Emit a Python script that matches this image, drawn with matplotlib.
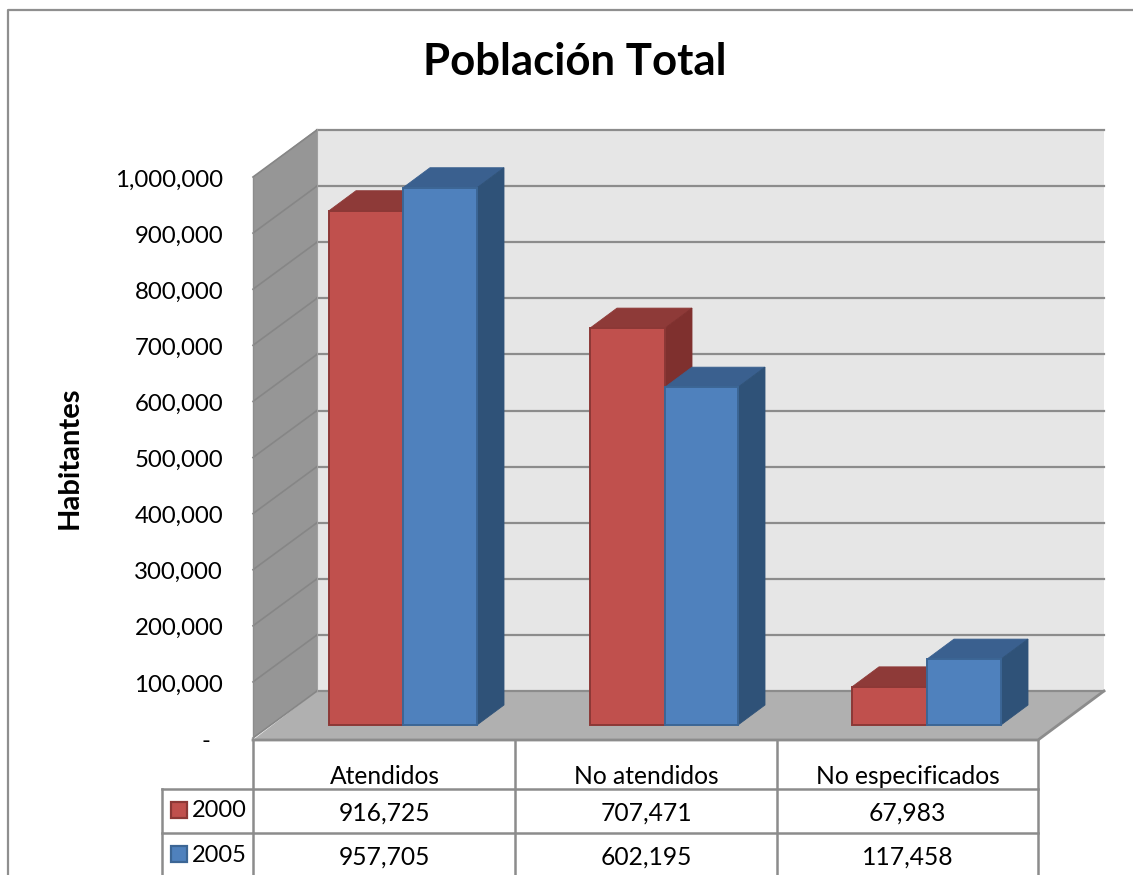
import matplotlib
matplotlib.use("Agg")
import matplotlib.pyplot as plt
from matplotlib.patches import Polygon
from matplotlib.ticker import FuncFormatter
from matplotlib.transforms import ScaledTranslation

title = "Población Total"
ylabel = "Habitantes"
categories = ["Atendidos", "No atendidos", "No especificados"]
series_names = ["2000", "2005"]
values_2000 = [916725, 707471, 67983]
values_2005 = [957705, 602195, 117458]
y_ticks = [0, 100000, 200000, 300000, 400000, 500000, 600000, 700000, 800000, 900000, 1000000]

plt.rcParams['font.family'] = ['Lato', 'DejaVu Sans']
W, H = 1133, 875
fig = plt.figure(figsize=(W / 100, H / 100), dpi=100, facecolor='white')
ax = fig.add_axes([0, 0, 1, 1], facecolor='none')

SCALE = 561.0 / 1e6          # pixels per inhabitant
FRONT_ZERO = 738.0
def V(p):                    # pixel row -> axis value
    return (FRONT_ZERO - p) / SCALE
def DV(d):                   # pixel length -> axis units
    return d / SCALE

ax.set_xlim(0, W)
ax.set_ylim(V(H), V(0))

GRID = '#8c8c8c'
# outer frame
ax.plot([8, 8, W], [V(H), V(10), V(10)], color='#8f8f8f', lw=1.6, zorder=1)

# walls and floor
ax.add_patch(Polygon([(317, V(129)), (1104, V(129)), (1104, V(691)), (317, V(691))], fc='#e6e6e6', ec='none', zorder=1))
ax.add_patch(Polygon([(253, V(177)), (317, V(129)), (317, V(691)), (253, V(738))], fc='#969696', ec='none', zorder=1))
ax.add_patch(Polygon([(253, V(740)), (317, V(691)), (1104, V(691)), (1038, V(740))], fc='#b0b0b0', ec='none', zorder=1))

# gridlines
for t in y_ticks:
    ybk = t + DV(738 - 691)
    ax.plot([317, 1104], [ybk, ybk], color=GRID, lw=1.6, zorder=2)
    ax.plot([253, 317], [t, ybk], color='#868686', lw=1.2, zorder=2)
ax.plot([253, 253], [V(740), V(177)], color='#8c8c8c', lw=1.0, zorder=2)
ax.plot([317, 317], [V(691), V(129)], color='#a0a0a0', lw=0.8, zorder=2)
ax.plot([253, 1038, 1104], [V(740), V(740), V(691)], color=GRID, lw=2, zorder=3)

# bars
BASE = V(725)
DX, DY = 27, DV(20)
def bar3d(x0, x1, v, face, top, side, edge, z):
    ax.add_patch(Polygon([(x0, BASE + v), (x0 + DX, BASE + v + DY), (x1 + DX, BASE + v + DY), (x1, BASE + v)],
                         fc=top, ec=top, lw=0.6, zorder=z))
    ax.add_patch(Polygon([(x1, BASE), (x1 + DX, BASE + DY), (x1 + DX, BASE + v + DY), (x1, BASE + v)],
                         fc=side, ec=side, lw=0.6, zorder=z))
    ax.bar((x0 + x1) / 2, v, width=x1 - x0, bottom=BASE, color=face, edgecolor=edge, linewidth=1.4, zorder=z + 0.1)

red_x = [(329, 403), (590, 665), (852, 927)]
blue_x = [(403, 477), (665, 738), (927, 1001)]
for i in range(3):
    bar3d(*red_x[i], values_2000[i], '#c0504d', '#8e3a38', '#7f302e', '#8c3836', 4 + i)
    bar3d(*blue_x[i], values_2005[i], '#4f81bd', '#3a608f', '#2f5278', '#3c6695', 4.5 + i)

# data table
TL = '#8c8c8c'
for x in [253, 515, 777, 1038]:
    ax.plot([x, x], [V(740), V(H)], color=TL, lw=1.8, zorder=3)
ax.plot([162, 162], [V(789), V(H)], color=TL, lw=1.8, zorder=3)
for y in [789, 833]:
    ax.plot([162, 1038], [V(y), V(y)], color=TL, lw=1.8, zorder=3)

FS = 17.7
cx = [384.5, 646, 907.5]
for i in range(3):
    ax.text(cx[i], V(776), categories[i], ha='center', va='center', fontsize=FS)
    ax.text(cx[i], V(813), f"{values_2000[i]:,}", ha='center', va='center', fontsize=FS)
    ax.text(cx[i], V(857), f"{values_2005[i]:,}", ha='center', va='center', fontsize=FS)

# legend keys in the table
for name, yc, fc, ec in zip(series_names, [809.5, 854], ['#c0504d', '#4f81bd'], ['#8c3836', '#3c6695']):
    ax.add_patch(Polygon([(171, V(yc - 8)), (187, V(yc - 8)), (187, V(yc + 8)), (171, V(yc + 8))],
                         fc=fc, ec=ec, lw=1.6, zorder=4))
    ax.text(192, V(yc + 1), name, ha='left', va='center', fontsize=17)

# y axis
ax.spines[['top', 'right', 'bottom', 'left']].set_visible(False)
ax.spines['left'].set_position(('data', 253))
ax.xaxis.set_visible(False)
ax.set_yticks(y_ticks)
ax.yaxis.set_major_formatter(FuncFormatter(lambda v, _: '-\u00a0\u00a0' if v == 0 else f"{int(round(v)):,}"))
ax.tick_params(axis='y', length=0, pad=21.5, labelsize=17.3)
fig.canvas.draw()
for lab in ax.get_yticklabels():
    lab.set_transform(lab.get_transform() + ScaledTranslation(0, -0.01, fig.dpi_scale_trans))

ax.text(575, V(62), title, ha='center', va='center', fontsize=31.5, fontweight='bold')
ax.text(70, V(458), ylabel, ha='center', va='center', rotation=90, fontsize=21, fontweight='bold')

fig.savefig('out.png', dpi=100)
